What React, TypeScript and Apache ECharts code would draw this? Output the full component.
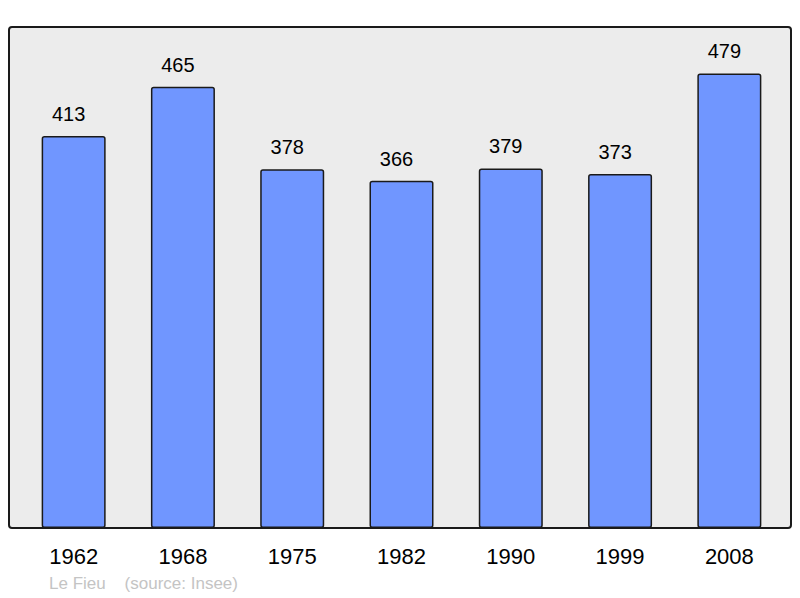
import React, { useEffect, useRef } from "react";
import * as echarts from "echarts";

const years = ["1962", "1968", "1975", "1982", "1990", "1999", "2008"];
const population = [413, 465, 378, 366, 379, 373, 479];
const footerText = "Le Fieu    (source: Insee)";

export default function App() {
  const ref = useRef<HTMLDivElement>(null);
  useEffect(() => {
    if (!ref.current) return;
    const chart = echarts.init(ref.current, undefined, { renderer: "svg" });
    chart.setOption({
      animation: false,
      backgroundColor: "#ffffff",
      textStyle: { fontFamily: "Liberation Sans, Arial, sans-serif" },
      graphic: [
        {
          type: "rect",
          z: -10,
          shape: { x: 9, y: 27, width: 782, height: 501, r: 3 },
          style: { fill: "#ececec", stroke: "#1a1a1a", lineWidth: 2 },
          silent: true,
        },
        {
          type: "text",
          x: 49,
          y: 575,
          style: {
            text: footerText,
            fill: "#c4c4c4",
            font: "17px 'Liberation Sans', Arial, sans-serif",
          },
          silent: true,
        },
      ],
      grid: { left: 19, right: 16, top: 27, bottom: 70, containLabel: false },
      xAxis: {
        type: "category",
        data: years,
        axisLine: { show: false },
        axisTick: { show: false },
        axisLabel: {
          color: "#000",
          fontSize: 22,
          margin: 17,
          fontFamily: "Liberation Sans, Arial, sans-serif",
        },
      },
      yAxis: {
        type: "value",
        min: 0,
        max: 528,
        show: false,
        splitLine: { show: false },
      },
      series: [
        {
          type: "bar",
          data: population,
          barWidth: 64,
          itemStyle: {
            color: "#7096ff",
            borderColor: "#1a1a1a",
            borderWidth: 1.5,
            borderRadius: 2,
          },
          label: {
            show: true,
            position: "top",
            distance: 12,
            offset: [-5, 0],
            color: "#000",
            fontSize: 20,
            fontFamily: "Liberation Sans, Arial, sans-serif",
          },
        },
      ],
    });
    return () => chart.dispose();
  }, []);
  return <div ref={ref} style={{ width: 800, height: 598, position: "absolute", left: 0, top: 0 }} />;
}
